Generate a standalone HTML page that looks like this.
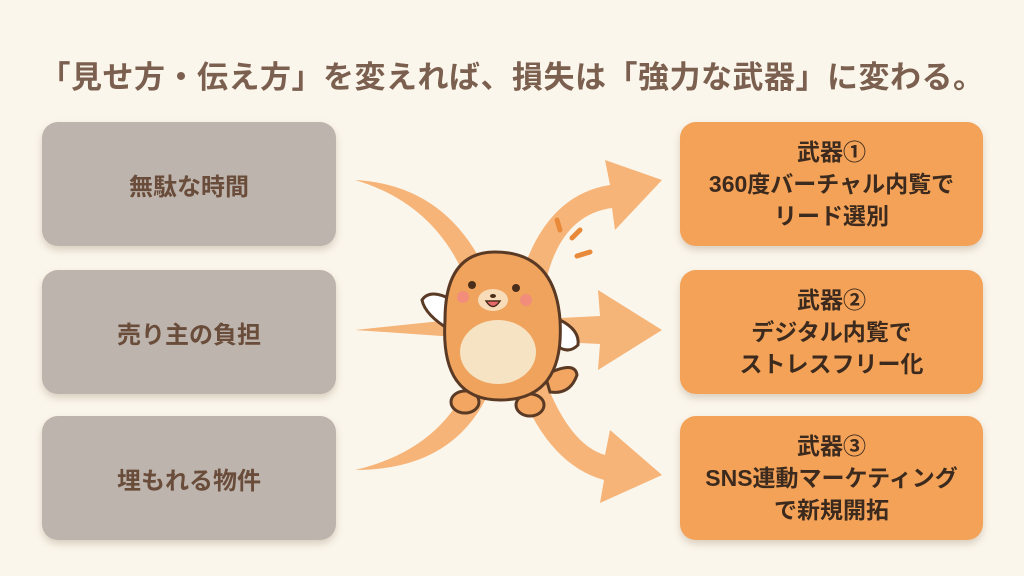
<!DOCTYPE html>
<html><head><meta charset="utf-8"><style>
html,body{margin:0;padding:0}
body{width:1024px;height:576px;background:#fbf6ec;position:relative;overflow:hidden;font-family:"Liberation Sans","Noto Sans CJK JP",sans-serif}
.t{position:absolute;left:0;top:52px;width:1024px;text-align:center;font-size:31px;font-weight:bold;color:#7b5f4f;letter-spacing:0.5px}
.b{position:absolute;border-radius:16px;display:flex;align-items:center;justify-content:center;text-align:center;font-weight:bold;box-shadow:0 4px 8px rgba(120,90,60,0.25)}
.g{left:42px;width:294px;height:124px;background:#bdb5ad;color:#6a4c3b;font-size:24px}
.o{left:680px;width:303px;height:124px;background:#f3a258;color:#3b2a1d;font-size:23px;line-height:32px}
svg{position:absolute;left:0;top:0}
</style></head><body>
<div class="t">「見せ方・伝え方」を変えれば、損失は「強力な武器」に変わる。</div>
<div class="b g" style="top:122px">無駄な時間</div>
<div class="b g" style="top:270px">売り主の負担</div>
<div class="b g" style="top:416px">埋もれる物件</div>
<div class="b o" style="top:122px">武器①<br>360度バーチャル内覧で<br>リード選別</div>
<div class="b o" style="top:270px">武器②<br>デジタル内覧で<br>ストレスフリー化</div>
<div class="b o" style="top:416px">武器③<br>SNS連動マーケティング<br>で新規開拓</div>
<svg width="1024" height="576" viewBox="0 0 1024 576">
<g fill="#f5ad6c" opacity="0.9">
<path d="M355 180 Q450 185 490 280 L470 290 Q440 205 355 180Z"/>
<path d="M355 330 L470 318 L470 338Z"/>
<path d="M355 470 Q440 450 470 380 L490 390 Q455 470 355 470Z"/>
<path d="M520 280 Q545 195 610 185 L605 160 L662 180 L615 230 L612 208 Q560 215 545 285Z"/>
<path d="M560 318 L600 316 L598 290 L662 330 L598 370 L600 344 L560 342Z"/>
<path d="M545 380 Q570 445 605 455 L610 430 L662 475 L600 503 L604 480 Q550 465 520 390Z"/>
</g>
<g stroke="#e88a3a" stroke-width="5" stroke-linecap="round">
<line x1="557" y1="220" x2="560" y2="230"/><line x1="572" y1="238" x2="580" y2="230"/><line x1="577" y1="256" x2="590" y2="252"/>
</g>
<g stroke="#5a3a24" stroke-width="3">
<ellipse cx="465" cy="402" rx="14" ry="11" fill="#f2a661"/>
<ellipse cx="530" cy="405" rx="14" ry="11" fill="#f2a661"/>
<path d="M545 375 Q575 360 577 375 Q570 395 550 392Z" fill="#f2a661"/>
<path d="M452 300 Q430 288 422 300 Q425 315 450 330Z" fill="#fff"/>
<path d="M560 320 Q580 330 578 345 Q568 355 556 345Z" fill="#fff"/>
<path d="M495 252 Q555 252 560 320 Q565 400 500 400 Q440 400 445 320 Q445 252 495 252Z" fill="#f0a35c"/>
</g>
<ellipse cx="498" cy="352" rx="38" ry="32" fill="#f6e3c3"/>
<ellipse cx="493" cy="300" rx="15" ry="11" fill="#f8dcb8"/>
<circle cx="472" cy="285" r="4" fill="#4a2e1c"/><circle cx="516" cy="288" r="4" fill="#4a2e1c"/>
<circle cx="463" cy="297" r="6" fill="#f2838a" opacity="0.7"/><circle cx="526" cy="300" r="6" fill="#f2838a" opacity="0.7"/>
<ellipse cx="493" cy="296" rx="3" ry="2" fill="#4a2e1c"/>
<path d="M486 301 Q493 312 500 301Z" fill="#e96a6a" stroke="#4a2e1c" stroke-width="1.5"/>
</svg>
</body></html>
